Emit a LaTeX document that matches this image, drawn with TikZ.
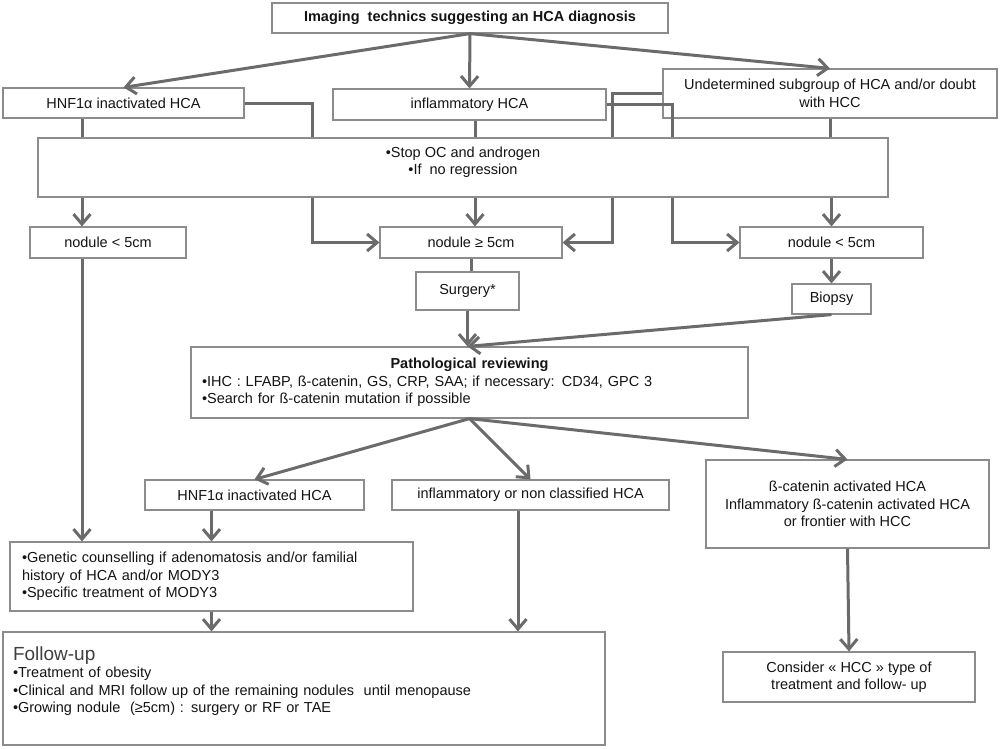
\documentclass[tikz,border=0pt]{standalone}
\usepackage{fontspec}
\setmainfont{Liberation Sans}
\usetikzlibrary{arrows.meta}
\definecolor{LinkGray}{HTML}{6B6B6B}
\definecolor{EdgeGray}{HTML}{8C8C8C}
\definecolor{InkGray}{HTML}{141414}
\definecolor{TitleGray}{HTML}{404040}

\begin{document}
\begin{tikzpicture}[x=1pt,y=-1pt,>={Straight Barb[length=10pt,width=17pt]},
 box/.style={draw=EdgeGray,line width=1.2pt,fill=white,text=InkGray,align=center,
             inner sep=3pt,font=\fontsize{14.5}{17.5}\selectfont},
 link/.style={draw=LinkGray,line width=3pt}]
\useasboundingbox (0,0) rectangle (1000,748);
\node[box,minimum width=396pt,minimum height=30pt] (top) at (470,18)
  {\bfseries Imaging\ \ technics suggesting an HCA diagnosis};
\node[box,minimum width=241pt,minimum height=30pt] (hnf) at (123.5,103) {HNF1α inactivated HCA};
\node[box,minimum width=273pt,minimum height=31pt] (infl) at (469.5,104.5) {inflammatory HCA};
\node[box,minimum width=334pt,minimum height=49pt] (undet) at (830,93.5)
  {Undetermined subgroup of HCA and/or doubt\\with HCC};
\node[box,minimum width=850pt,minimum height=59pt] (stop) at (463,167.5)
  {•Stop OC and androgen\\•If\ \ no regression\\[-4pt]\mbox{}};
\node[box,minimum width=156pt,minimum height=31pt] (smallL) at (108,242.5) {nodule < 5cm};
\node[box,minimum width=182pt,minimum height=31pt] (big) at (471,242.5) {nodule ≥ 5cm};
\node[box,minimum width=183pt,minimum height=31pt] (smallR) at (831.5,242.5) {nodule < 5cm};
\node[box,minimum width=103pt,minimum height=38pt] (surg) at (467.5,291) {Surgery*};
\node[box,minimum width=79pt,minimum height=30pt] (biop) at (831.5,299) {Biopsy};
\node[box,align=left,text width=535pt,inner xsep=11pt,minimum height=71pt] (patho) at (469.5,382.5)
  {\makebox[\linewidth]{\bfseries Pathological reviewing}\\
   •IHC : LFABP, ß-catenin, GS, CRP, SAA; if necessary: CD34, GPC 3\\
   •Search for ß-catenin mutation if possible};
\node[box,minimum width=219pt,minimum height=30pt] (hnfb) at (254.5,495) {HNF1α inactivated HCA};
\node[box,minimum width=277pt,minimum height=30pt] (inflb) at (530.5,495) {inflammatory or non classified HCA};
\node[box,minimum width=283pt,minimum height=88pt] (beta) at (847.5,504)
  {ß-catenin activated HCA\\Inflammatory ß-catenin activated HCA\\or frontier with HCC};
\node[box,align=left,text width=379pt,inner xsep=12pt,minimum height=69pt] (genet) at (211.5,576.5)
  {•Genetic counselling if adenomatosis and/or familial\\
   history of HCA and/or MODY3\\
   •Specific treatment of MODY3};
\node[box,align=left,text width=582pt,inner xsep=10pt,minimum height=113pt] (follow) at (304,688.5)
  {{\fontsize{19}{22}\selectfont\color{TitleGray}Follow-up}\\
   •Treatment of obesity\\
   •Clinical and MRI follow up of the remaining nodules\ \ until menopause\\
   •Growing nodule\ \ (≥5cm) : surgery or RF or TAE\\ \mbox{}};
\node[box,minimum width=252pt,minimum height=50pt] (hcc) at (849,677)
  {Consider « HCC » type of\\treatment and follow- up};
\coordinate (ca) at (82,0);
\coordinate (cb) at (312,0);
\coordinate (cc) at (475,0);
\coordinate (cd) at (612,0);
\coordinate (ce) at (672,0);
\coordinate (cg) at (518,0);
\draw[link,->] (top.south) -- (hnf.north);
\draw[link,->] (top.south) -- (infl.north);
\draw[link,->] (top.south) -- (undet.north);
\draw[link] (hnf.south -| ca) -- (stop.north -| ca);
\draw[link] (hnf.east) -| (stop.north -| cb);
\draw[link] (infl.south -| cc) -- (stop.north -| cc);
\draw[link] (undet.west) -| (stop.north -| cd);
\draw[link] (infl.east) -| (stop.north -| ce);
\draw[link] (undet.south) -- (stop.north -| undet.south);
\draw[link,->] (stop.south -| ca) -- (smallL.north -| ca);
\draw[link,->] (stop.south -| cb) |- (big.west);
\draw[link,->] (stop.south -| cc) -- (big.north -| cc);
\draw[link,->] (stop.south -| cd) |- (big.east);
\draw[link,->] (stop.south -| ce) |- (smallR.west);
\draw[link,->] (stop.south -| smallR.north) -- (smallR.north);
\draw[link] (big.south) -- (surg.north -| big.south);
\draw[link,->] (smallR.south) -- (biop.north);
\draw[link,->] (surg.south) -- (patho.north -| surg.south);
\draw[link,->] (biop.south) -- (patho.north -| surg.south);
\draw[link,->] (patho.south) -- (hnfb.north);
\draw[link,->] (patho.south) -- (inflb.north);
\draw[link,->] (patho.south) -- (beta.north);
\draw[link,->] (smallL.south -| ca) -- (genet.north -| ca);
\draw[link,->] (hnfb.south -| genet.north) -- (genet.north);
\draw[link,->] (genet.south) -- (follow.north -| genet.south);
\draw[link,->] (inflb.south -| cg) -- (follow.north -| cg);
\draw[link,->] (beta.south) -- (hcc.north);
\end{tikzpicture}
\end{document}
